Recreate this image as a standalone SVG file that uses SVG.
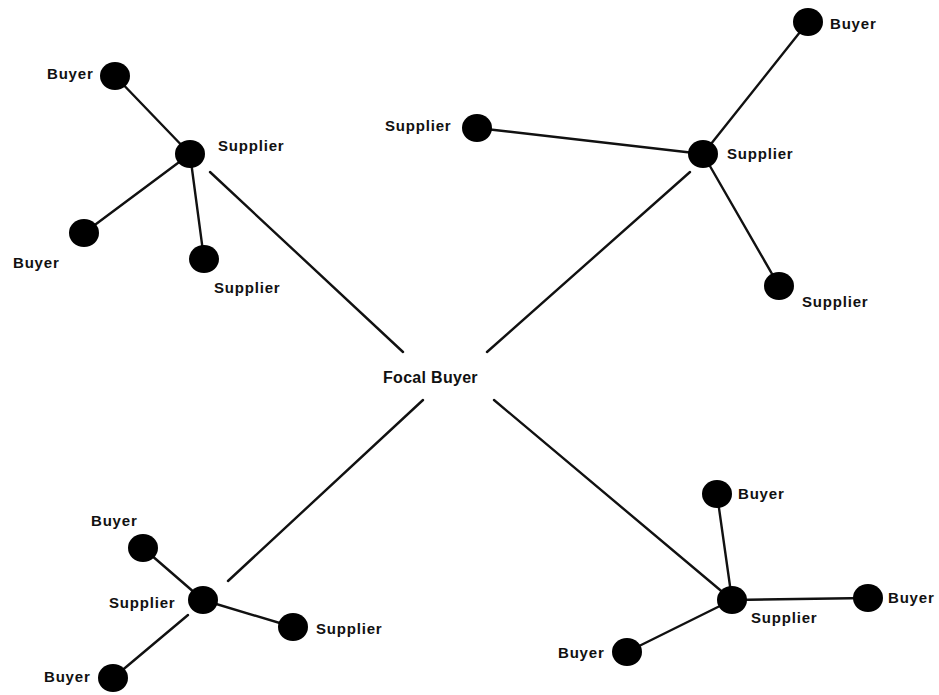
<svg xmlns="http://www.w3.org/2000/svg" width="939" height="695" viewBox="0 0 939 695">
<style>
.e{stroke:#111;stroke-width:2.4;stroke-linecap:round;fill:none}
.n{fill:#000}
.t{font-family:"Liberation Sans",Arial,sans-serif;font-weight:bold;font-size:15px;letter-spacing:0.8px;fill:#111}
.f{font-family:"Liberation Sans",Arial,sans-serif;font-weight:bold;font-size:16px;letter-spacing:0.3px;fill:#111}
</style>
<rect width="939" height="695" fill="#fff"/>
<g id="connectors">
<line class="e" x1="190" y1="154" x2="115" y2="76"/>
<line class="e" x1="190" y1="154" x2="84" y2="233"/>
<line class="e" x1="190" y1="154" x2="204" y2="259"/>
<line class="e" x1="210" y1="172" x2="403" y2="352"/>
<line class="e" x1="703" y1="154" x2="808" y2="22"/>
<line class="e" x1="703" y1="154" x2="477" y2="128"/>
<line class="e" x1="703" y1="154" x2="779" y2="286"/>
<line class="e" x1="690" y1="172" x2="487" y2="352"/>
<line class="e" x1="203" y1="600" x2="143" y2="548"/>
<line class="e" x1="203" y1="600" x2="293" y2="627"/>
<line class="e" x1="188" y1="615" x2="113" y2="678"/>
<line class="e" x1="228" y1="581" x2="423" y2="400"/>
<line class="e" x1="732" y1="600" x2="717" y2="494"/>
<line class="e" x1="732" y1="600" x2="868" y2="598"/>
<line class="e" x1="732" y1="600" x2="627" y2="652"/>
<line class="e" x1="494" y1="400" x2="732" y2="600"/>
</g>
<g id="tl-buyer1"><ellipse class="n" cx="115" cy="76" rx="15" ry="14"/><text class="t" x="47" y="79">Buyer</text></g>
<g id="tl-supplier-hub"><ellipse class="n" cx="190" cy="154" rx="15" ry="14"/><text class="t" x="218" y="151">Supplier</text></g>
<g id="tl-buyer2"><ellipse class="n" cx="84" cy="233" rx="15" ry="14"/><text class="t" x="13" y="268">Buyer</text></g>
<g id="tl-supplier2"><ellipse class="n" cx="204" cy="259" rx="15" ry="14"/><text class="t" x="214" y="293">Supplier</text></g>
<g id="tr-buyer"><ellipse class="n" cx="808" cy="22" rx="15" ry="14"/><text class="t" x="830" y="29">Buyer</text></g>
<g id="tr-supplier1"><ellipse class="n" cx="477" cy="128" rx="15" ry="14"/><text class="t" x="385" y="131">Supplier</text></g>
<g id="tr-supplier-hub"><ellipse class="n" cx="703" cy="154" rx="15" ry="14"/><text class="t" x="727" y="159">Supplier</text></g>
<g id="tr-supplier2"><ellipse class="n" cx="779" cy="286" rx="15" ry="14"/><text class="t" x="802" y="307">Supplier</text></g>
<g id="focal-buyer"><text class="f" x="383" y="383">Focal Buyer</text></g>
<g id="bl-buyer1"><ellipse class="n" cx="143" cy="548" rx="15" ry="14"/><text class="t" x="91" y="526">Buyer</text></g>
<g id="bl-supplier-hub"><ellipse class="n" cx="203" cy="600" rx="15" ry="14"/><text class="t" x="109" y="608">Supplier</text></g>
<g id="bl-supplier2"><ellipse class="n" cx="293" cy="627" rx="15" ry="14"/><text class="t" x="316" y="634">Supplier</text></g>
<g id="bl-buyer2"><ellipse class="n" cx="113" cy="678" rx="15" ry="14"/><text class="t" x="44" y="682">Buyer</text></g>
<g id="br-buyer1"><ellipse class="n" cx="717" cy="494" rx="15" ry="14"/><text class="t" x="738" y="499">Buyer</text></g>
<g id="br-supplier-hub"><ellipse class="n" cx="732" cy="600" rx="15" ry="14"/><text class="t" x="751" y="623">Supplier</text></g>
<g id="br-buyer2"><ellipse class="n" cx="868" cy="598" rx="15" ry="14"/><text class="t" x="888" y="603">Buyer</text></g>
<g id="br-buyer3"><ellipse class="n" cx="627" cy="652" rx="15" ry="14"/><text class="t" x="558" y="658">Buyer</text></g>
</svg>
